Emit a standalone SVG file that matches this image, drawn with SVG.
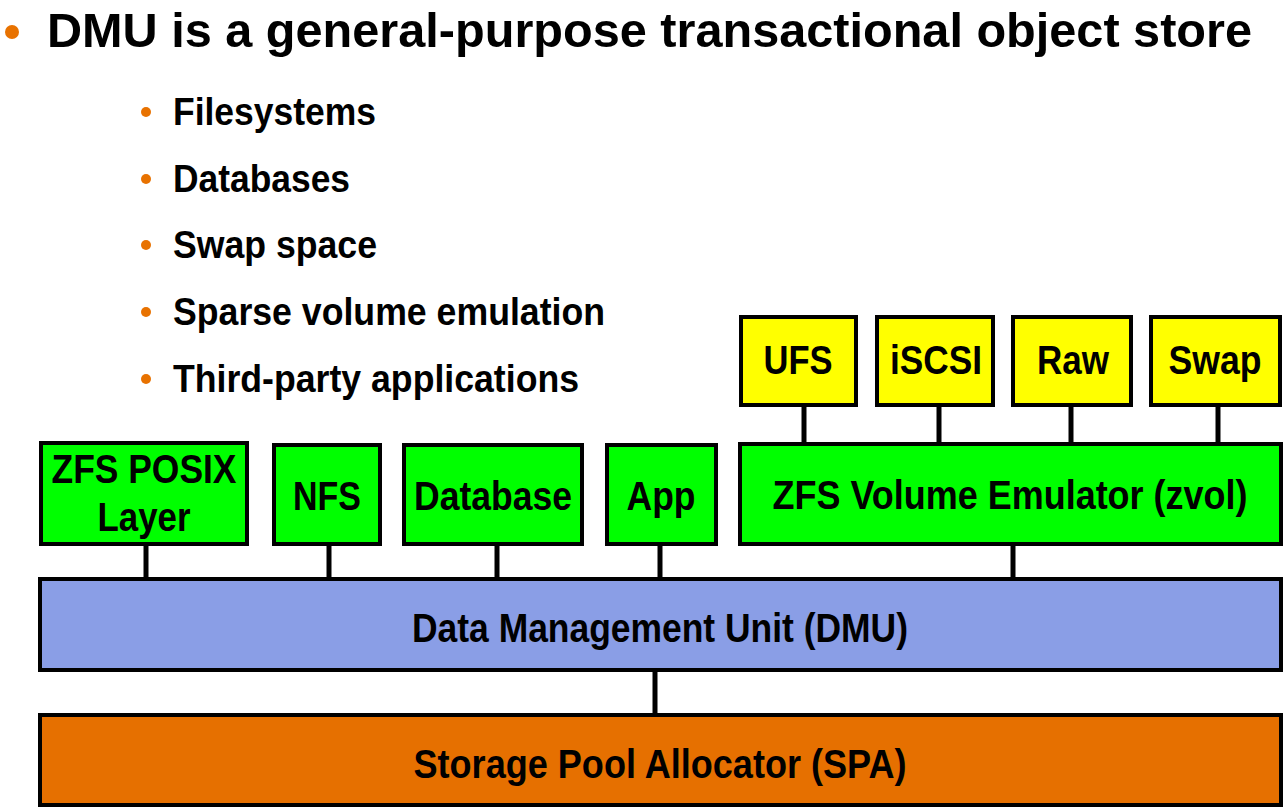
<svg xmlns="http://www.w3.org/2000/svg" width="1284" height="808" viewBox="0 0 1284 808">
<style>
text{font-family:"Liberation Sans",Arial,sans-serif;font-weight:bold;fill:#000}
.box{stroke:#000;stroke-width:4}
.g{fill:#00ff00}
.y{fill:#ffff00}
.lbl{font-size:41px;text-anchor:middle}
.sub{font-size:39px}
.dot{fill:#e87200}
.conn line{stroke:#000;stroke-width:5}
</style>
<rect width="1284" height="808" fill="#fff"/>
<g id="bullets">
<circle class="dot" cx="12" cy="32" r="7"/>
<text x="47" y="47" font-size="49" textLength="1205" lengthAdjust="spacingAndGlyphs">DMU is a general-purpose transactional object store</text>
<circle class="dot" cx="146" cy="112" r="5"/>
<text class="sub" x="173" y="125" textLength="203" lengthAdjust="spacingAndGlyphs">Filesystems</text>
<circle class="dot" cx="146" cy="179" r="5"/>
<text class="sub" x="173" y="192" textLength="177" lengthAdjust="spacingAndGlyphs">Databases</text>
<circle class="dot" cx="146" cy="245" r="5"/>
<text class="sub" x="173" y="258" textLength="204" lengthAdjust="spacingAndGlyphs">Swap space</text>
<circle class="dot" cx="146" cy="312" r="5"/>
<text class="sub" x="173" y="325" textLength="432" lengthAdjust="spacingAndGlyphs">Sparse volume emulation</text>
<circle class="dot" cx="146" cy="379" r="5"/>
<text class="sub" x="173" y="392" textLength="406" lengthAdjust="spacingAndGlyphs">Third-party applications</text>
</g>
<g class="conn" id="connectors">
<line x1="804" y1="405" x2="804" y2="444"/>
<line x1="939" y1="405" x2="939" y2="444"/>
<line x1="1071" y1="405" x2="1071" y2="444"/>
<line x1="1218" y1="405" x2="1218" y2="444"/>
<line x1="146" y1="544" x2="146" y2="579"/>
<line x1="329" y1="544" x2="329" y2="579"/>
<line x1="497" y1="544" x2="497" y2="579"/>
<line x1="660" y1="544" x2="660" y2="579"/>
<line x1="1013" y1="544" x2="1013" y2="579"/>
<line x1="655" y1="670" x2="655" y2="715"/>
</g>
<g id="ufs"><rect class="box y" x="741" y="317" width="115" height="88"/><text class="lbl" x="798" y="374" textLength="69" lengthAdjust="spacingAndGlyphs">UFS</text></g>
<g id="iscsi"><rect class="box y" x="877" y="317" width="116" height="88"/><text class="lbl" x="936" y="374" textLength="92" lengthAdjust="spacingAndGlyphs">iSCSI</text></g>
<g id="raw"><rect class="box y" x="1013" y="317" width="118" height="88"/><text class="lbl" x="1073" y="374" textLength="72" lengthAdjust="spacingAndGlyphs">Raw</text></g>
<g id="swap"><rect class="box y" x="1151" y="317" width="129" height="88"/><text class="lbl" x="1215" y="374" textLength="93" lengthAdjust="spacingAndGlyphs">Swap</text></g>
<g id="posix"><rect class="box g" x="41" y="443" width="206" height="101"/><text class="lbl" x="144" y="483" textLength="185" lengthAdjust="spacingAndGlyphs">ZFS POSIX</text><text class="lbl" x="144" y="531" textLength="93" lengthAdjust="spacingAndGlyphs">Layer</text></g>
<g id="nfs"><rect class="box g" x="274" y="445" width="106" height="99"/><text class="lbl" x="327" y="510" textLength="68" lengthAdjust="spacingAndGlyphs">NFS</text></g>
<g id="database"><rect class="box g" x="404" y="445" width="178" height="99"/><text class="lbl" x="493" y="510" textLength="158" lengthAdjust="spacingAndGlyphs">Database</text></g>
<g id="app"><rect class="box g" x="607" y="445" width="109" height="99"/><text class="lbl" x="661" y="510" textLength="69" lengthAdjust="spacingAndGlyphs">App</text></g>
<g id="zvol"><rect class="box g" x="740" y="444" width="541" height="100"/><text class="lbl" x="1010" y="509" font-size="36" textLength="475" lengthAdjust="spacingAndGlyphs">ZFS Volume Emulator (zvol)</text></g>
<g id="dmu"><rect class="box" fill="#8a9ee6" x="40" y="579" width="1241" height="91"/><text class="lbl" x="660" y="642" textLength="496" lengthAdjust="spacingAndGlyphs">Data Management Unit (DMU)</text></g>
<g id="spa"><rect class="box" fill="#e67000" x="40" y="715" width="1241" height="90"/><text class="lbl" x="660" y="778" textLength="493" lengthAdjust="spacingAndGlyphs">Storage Pool Allocator (SPA)</text></g>
</svg>
